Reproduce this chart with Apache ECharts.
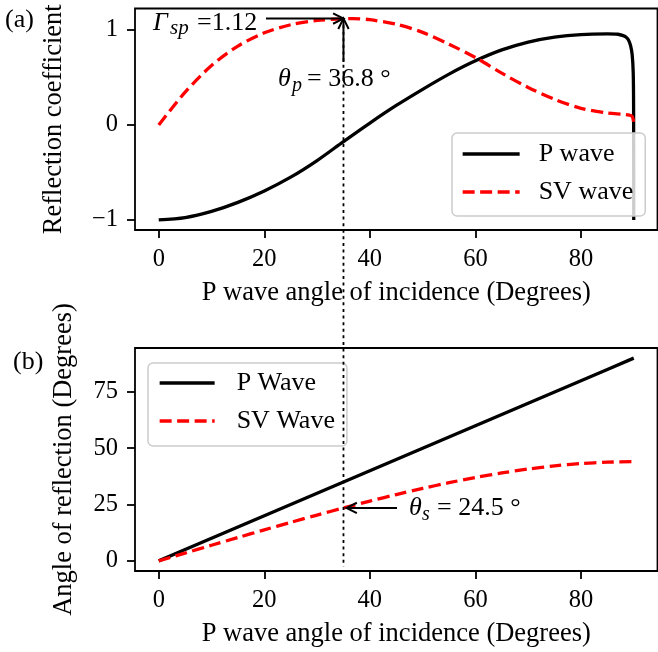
<!DOCTYPE html>
<html>
<head>
<meta charset="utf-8">
<script src="https://cdn.jsdelivr.net/npm/echarts@6/dist/echarts.min.js"></script>
<style>
  html, body { margin: 0; padding: 0; background: #fff; }
  #chart { width: 658px; height: 652px; }
</style>
</head>
<body>
<div id="chart"></div>
<script>
const FONT = '"Liberation Serif", "Times New Roman", serif';

// Panel (a): reflection coefficient vs. P-wave angle of incidence (degrees)
const pAngles = [0, 5, 10, 15, 20, 25, 30, 35, 40, 45, 50, 55, 60, 65, 70, 75, 80, 85, 87, 88, 88.5, 89, 89.4, 89.7, 89.9, 89.97, 90];
const pWaveCoef = [-1.0, -0.975, -0.91, -0.815, -0.695, -0.55, -0.375, -0.175, 0.02, 0.205, 0.375, 0.535, 0.675, 0.79, 0.873, 0.925, 0.952, 0.958, 0.955, 0.94, 0.925, 0.895, 0.835, 0.74, 0.55, 0.2, -1.0];

const svAngles = [0, 5, 10, 15, 20, 25, 30, 35, 36.8, 40, 45, 50, 55, 60, 65, 70, 75, 80, 85, 88, 89, 89.7, 90];
const svWaveCoef = [0, 0.345, 0.625, 0.83, 0.97, 1.055, 1.1, 1.118, 1.12, 1.108, 1.06, 0.975, 0.85, 0.71, 0.545, 0.395, 0.27, 0.175, 0.125, 0.112, 0.105, 0.09, 0.02];

// Panel (b): angle of reflection vs. P-wave angle of incidence (degrees)
const reflAngles = [0, 5, 10, 15, 20, 25, 30, 35, 40, 45, 50, 55, 60, 65, 70, 75, 80, 85, 90];
const pWaveRefl = [0, 5, 10, 15, 20, 25, 30, 35, 40, 45, 50, 55, 60, 65, 70, 75, 80, 85, 90];
const svWaveRefl = [0, 3.47, 6.93, 10.36, 13.75, 17.08, 20.33, 23.49, 26.53, 29.43, 32.17, 34.7, 37.0, 39.04, 40.77, 42.17, 43.19, 43.81, 44.03];

// Tick positions
const xTicks = [0, 20, 40, 60, 80];
const yTicksA = [-1, 0, 1];
const yTicksB = [0, 25, 50, 75];

// Annotated quantities
const markAngle = 35;      // dotted guide line
const gammaSp = 1.12;      // SV peak coefficient
const thetaP = 36.8;
const thetaS = 24.5;

const zip = (xs, ys) => xs.map((x, i) => [x, ys[i]]);
const minus = v => String(v).replace('-', '\u2212');

const chart = echarts.init(document.getElementById('chart'), null, { renderer: 'canvas' });

const gridBase = { left: 135, width: 522.5, show: true, borderColor: '#000', borderWidth: 1.8, backgroundColor: 'transparent' };

function xAxisFor(gridIndex) {
  return {
    type: 'value', gridIndex, min: -4.5, max: 94.5,
    axisLine: { show: false, onZero: false },
    splitLine: { show: false },
    axisTick: { show: true, length: 8, customValues: xTicks, lineStyle: { color: '#000', width: 1.8 } },
    axisLabel: { customValues: xTicks, color: '#000', fontFamily: FONT, fontSize: 24.5, margin: 17 },
    name: 'P wave angle of incidence (Degrees)',
    nameLocation: 'middle', nameGap: 50,
    nameTextStyle: { color: '#000', fontFamily: FONT, fontSize: 26.5 }
  };
}

function yAxisFor(gridIndex, min, max, ticks, name, gap) {
  return {
    type: 'value', gridIndex, min, max,
    axisLine: { show: false, onZero: false },
    splitLine: { show: false },
    axisTick: { show: true, length: 8, customValues: ticks, lineStyle: { color: '#000', width: 1.8 } },
    axisLabel: { customValues: ticks, color: '#000', fontFamily: FONT, fontSize: 24.5, margin: 17, formatter: minus },
    name, nameLocation: 'middle', nameRotate: 90, nameGap: gap,
    nameTextStyle: { color: '#000', fontFamily: FONT, fontSize: 26.5 }
  };
}

const legendBase = {
  orient: 'vertical',
  itemHeight: 26, itemGap: 12,
  backgroundColor: 'rgba(255,255,255,0.8)',
  borderColor: '#cccccc', borderWidth: 1.5, borderRadius: 5,
  itemStyle: { color: 'rgba(0,0,0,0)', borderWidth: 0 },
  lineStyle: { width: 3.3 },
  selectedMode: false,
  z: 10
};

const solid = { color: '#000', width: 3.3 };
const dashed = { color: '#ff0000', width: 3.3, type: [12, 5.5] };

chart.setOption({
  animation: false,
  grid: [
    Object.assign({ top: 8.5, height: 221.5 }, gridBase),
    Object.assign({ top: 348, height: 223 }, gridBase)
  ],
  xAxis: [xAxisFor(0), xAxisFor(1)],
  yAxis: [
    yAxisFor(0, -1.106, 1.226, yTicksA, 'Reflection coefficient', 67),
    yAxisFor(1, -4.5, 94.5, yTicksB, 'Angle of reflection (Degrees)', 57)
  ],
  legend: [
    Object.assign({}, legendBase, {
      data: ['P wave', 'SV wave'],
      left: 452, top: 133,
      padding: [8, 12, 11, 9],
      itemWidth: 57,
      textStyle: { color: '#000', fontFamily: FONT, fontSize: 26, padding: [0, 0, 0, 14] }
    }),
    Object.assign({}, legendBase, {
      data: ['P Wave', 'SV Wave'],
      left: 148, top: 363,
      padding: [7, 12, 12, 10],
      itemWidth: 55,
      textStyle: { color: '#000', fontFamily: FONT, fontSize: 26, padding: [0, 0, 0, 17] }
    })
  ],
  series: [
    { name: 'P wave', type: 'line', symbol: 'none', smooth: 0.3, xAxisIndex: 0, yAxisIndex: 0,
      data: zip(pAngles, pWaveCoef), lineStyle: solid, itemStyle: { color: '#000' }, z: 3 },
    { name: 'SV wave', type: 'line', symbol: 'none', smooth: 0.3, xAxisIndex: 0, yAxisIndex: 0,
      data: zip(svAngles, svWaveCoef), lineStyle: dashed, itemStyle: { color: '#ff0000' }, z: 4 },
    { name: 'P Wave', type: 'line', symbol: 'none', xAxisIndex: 1, yAxisIndex: 1,
      data: zip(reflAngles, pWaveRefl), lineStyle: solid, itemStyle: { color: '#000' }, z: 3 },
    { name: 'SV Wave', type: 'line', symbol: 'none', smooth: 0.3, xAxisIndex: 1, yAxisIndex: 1,
      data: zip(reflAngles, svWaveRefl), lineStyle: dashed, itemStyle: { color: '#ff0000' }, z: 4 }
  ]
});

// ---- annotations: guide line, arrows and labels ----
function arrow(from, to) {
  const dx = to[0] - from[0], dy = to[1] - from[1];
  const len = Math.hypot(dx, dy), ux = dx / len, uy = dy / len;
  const hl = 10.4, hw = 5.2;
  const bx = to[0] - ux * hl, by = to[1] - uy * hl;
  const nx = -uy, ny = ux;
  return [
    { type: 'line', z: 100, shape: { x1: from[0], y1: from[1], x2: to[0], y2: to[1] },
      style: { stroke: '#000', lineWidth: 2 } },
    { type: 'polyline', z: 100, shape: { points: [[bx + nx * hw, by + ny * hw], [to[0], to[1]], [bx - nx * hw, by - ny * hw]] },
      style: { stroke: '#000', lineWidth: 2, fill: null } }
  ];
}
function label(x, baseline, text, size, italic) {
  return {
    type: 'text', z: 101, x, y: baseline - 0.3375 * size,
    style: { text, fill: '#000', fontFamily: FONT, fontSize: size, fontStyle: italic ? 'italic' : 'normal',
             textAlign: 'left', textVerticalAlign: 'middle', align: 'left', verticalAlign: 'middle' }
  };
}

const peakPx = chart.convertToPixel({ gridIndex: 0 }, [markAngle, gammaSp]);
const guideEnd = chart.convertToPixel({ gridIndex: 1 }, [markAngle, -2.5]);
const svAt = svWaveRefl[reflAngles.indexOf(markAngle)];
const svPx = chart.convertToPixel({ gridIndex: 1 }, [markAngle, svAt]);

const elements = [
  { type: 'line', z: 99, shape: { x1: peakPx[0], y1: peakPx[1], x2: guideEnd[0], y2: guideEnd[1] },
    style: { stroke: '#000', lineWidth: 1.8, lineDash: [3, 3.6] } },
  ...arrow([266, peakPx[1]], peakPx),
  ...arrow([peakPx[0], 62], peakPx),
  ...arrow([397, svPx[1]], [svPx[0] + 3, svPx[1]]),
  label(153, 32, '\u0393', 26, true),
  label(170, 35.5, 'sp', 21, true),
  label(197, 32, '=' + gammaSp.toFixed(2), 26, false),
  label(278, 88, '\u03b8', 26, true),
  label(292, 92, 'p', 20, true),
  label(307, 88, '= ' + thetaP.toFixed(1) + ' \u00b0', 26, false),
  label(409, 517, '\u03b8', 26, true),
  label(422, 521, 's', 20, true),
  label(437, 517, '= ' + thetaS.toFixed(1) + ' \u00b0', 26, false),
  label(5, 29, '(a)', 26, false),
  label(13, 371, '(b)', 26, false)
];

chart.setOption({ graphic: { elements } });
</script>
</body>
</html>
